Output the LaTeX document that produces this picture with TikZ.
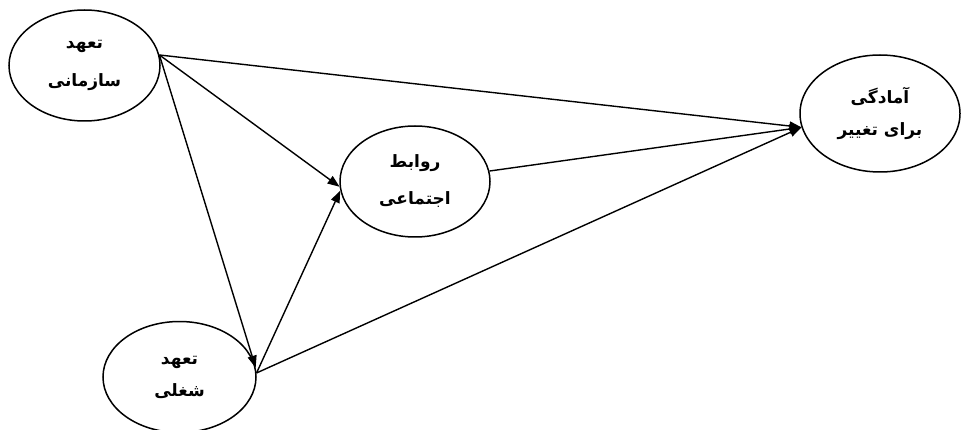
\documentclass[tikz,border=0pt]{standalone}
\usepackage{fontspec}
\usetikzlibrary{shapes.geometric,arrows.meta}
\TeXXeTstate=1
\newfontfamily\arabicfont[Script=Arabic]{DejaVu Sans}
\tikzset{
  var/.style={ellipse,draw,line width=1.5pt,inner sep=0pt,align=center,
    font=\arabicfont\bfseries\fontsize{17}{32}\selectfont},
  conn/.style={line width=1.4pt,-{Triangle[length=12pt,width=9pt]}}
}
\begin{document}
\begin{tikzpicture}[x=1pt,y=-1pt]
\useasboundingbox (0,0) rectangle (963,430);
\clip (0,0) rectangle (963,430);
\node[var,minimum width=151pt,minimum height=111pt] (e1) at (84.5,65.5)
  {\beginR تعهد\endR\\[6pt]\beginR سازمانی\endR};
\node[var,minimum width=150pt,minimum height=111pt] (e2) at (415,181.5)
  {\beginR روابط\endR\\[5pt]\beginR اجتماعی\endR};
\node[var,minimum width=153pt,minimum height=111pt] (e3) at (179.5,377)
  {\beginR تعهد\endR\\\beginR شغلی\endR};
\node[var,minimum width=160pt,minimum height=117pt] (e4) at (880,113.5)
  {\beginR آمادگی\endR\\\beginR برای تغییر\endR};
\draw[conn] (e1.8) -- (e4.190);
\draw[conn] (e1.8) -- (e2.184);
\draw[conn] (e1.8) -- (e3.7);
\draw[conn] (e3.3) -- (e2.187);
\draw[conn] (e3.3) -- (e4.190);
\draw[conn] (e2.8) -- (e4.190);
\end{tikzpicture}
\end{document}
